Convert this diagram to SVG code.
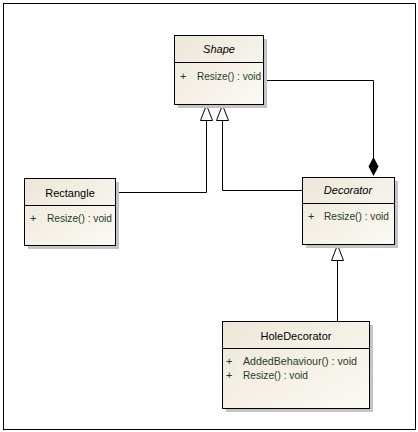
<svg xmlns="http://www.w3.org/2000/svg" width="418" height="432" viewBox="0 0 418 432">
<style>
.box{fill:url(#cream);stroke:#000;stroke-width:1}
.shadow{fill:#c4c4c4}
.div{stroke:#000;stroke-width:1}
.title{font-family:"Liberation Sans",Arial,sans-serif;font-size:11px;fill:#000;text-anchor:middle}
.it{font-style:italic}
.op{font-family:"Liberation Sans",Arial,sans-serif;font-size:11px;fill:#1f3d1f}
.conn{fill:none;stroke:#000;stroke-width:1}
.tri{fill:#fff;stroke:#000;stroke-width:1}
</style>
<defs>
<linearGradient id="cream" x1="0" y1="0" x2="1" y2="1">
<stop offset="0" stop-color="#ede7d8"/>
<stop offset="1" stop-color="#fcfaf5"/>
</linearGradient>
</defs>
<rect x="0" y="0" width="418" height="432" fill="#fff"/>
<rect x="3.5" y="3.5" width="412" height="426" fill="none" stroke="#000" stroke-width="1"/>

<g id="connectors">
<polyline class="conn" points="263,80.5 373.5,80.5 373.5,158"/>
<polygon points="373.5,157 378.5,166.5 373.5,176 368.5,166.5" fill="#000"/>
<polyline class="conn" points="115,192.5 206.5,192.5 206.5,120"/>
<polygon class="tri" points="206.5,105 212.5,120.5 200.5,120.5"/>
<polyline class="conn" points="302,190.5 222.5,190.5 222.5,120"/>
<polygon class="tri" points="222.5,105 228.5,120.5 216.5,120.5"/>
<line class="conn" x1="337.5" y1="321" x2="337.5" y2="261"/>
<polygon class="tri" points="337.5,245 343.5,260.5 331.5,260.5"/>
</g>

<g id="shape">
<rect class="shadow" x="178" y="39" width="89" height="69"/>
<rect class="box" x="174.5" y="35.5" width="89" height="69"/>
<line class="div" x1="174.5" y1="62.5" x2="263.5" y2="62.5"/>
<text class="title it" x="219" y="53">Shape</text>
<text class="op" x="180" y="80">+</text>
<text class="op" x="197" y="80" textLength="64" lengthAdjust="spacingAndGlyphs">Resize() : void</text>
</g>

<g id="rectangle">
<rect class="shadow" x="28" y="182" width="91" height="67"/>
<rect class="box" x="24.5" y="178.5" width="91" height="67"/>
<line class="div" x1="24.5" y1="205.5" x2="115.5" y2="205.5"/>
<text class="title" x="70" y="197">Rectangle</text>
<text class="op" x="30" y="222">+</text>
<text class="op" x="47" y="222" textLength="65" lengthAdjust="spacingAndGlyphs">Resize() : void</text>
</g>

<g id="decorator">
<rect class="shadow" x="306" y="181" width="92" height="67"/>
<rect class="box" x="302.5" y="177.5" width="92" height="67"/>
<line class="div" x1="302.5" y1="203.5" x2="394.5" y2="203.5"/>
<text class="title it" x="348" y="194">Decorator</text>
<text class="op" x="308" y="220">+</text>
<text class="op" x="324" y="220" textLength="65" lengthAdjust="spacingAndGlyphs">Resize() : void</text>
</g>

<g id="holedecorator">
<rect class="shadow" x="226" y="325" width="147" height="87"/>
<rect class="box" x="222.5" y="321.5" width="147" height="87"/>
<line class="div" x1="222.5" y1="348.5" x2="369.5" y2="348.5"/>
<text class="title" x="296" y="340">HoleDecorator</text>
<text class="op" x="226" y="365">+</text>
<text class="op" x="243" y="365" textLength="114" lengthAdjust="spacingAndGlyphs">AddedBehaviour() : void</text>
<text class="op" x="226" y="379">+</text>
<text class="op" x="243" y="379" textLength="65" lengthAdjust="spacingAndGlyphs">Resize() : void</text>
</g>
</svg>
